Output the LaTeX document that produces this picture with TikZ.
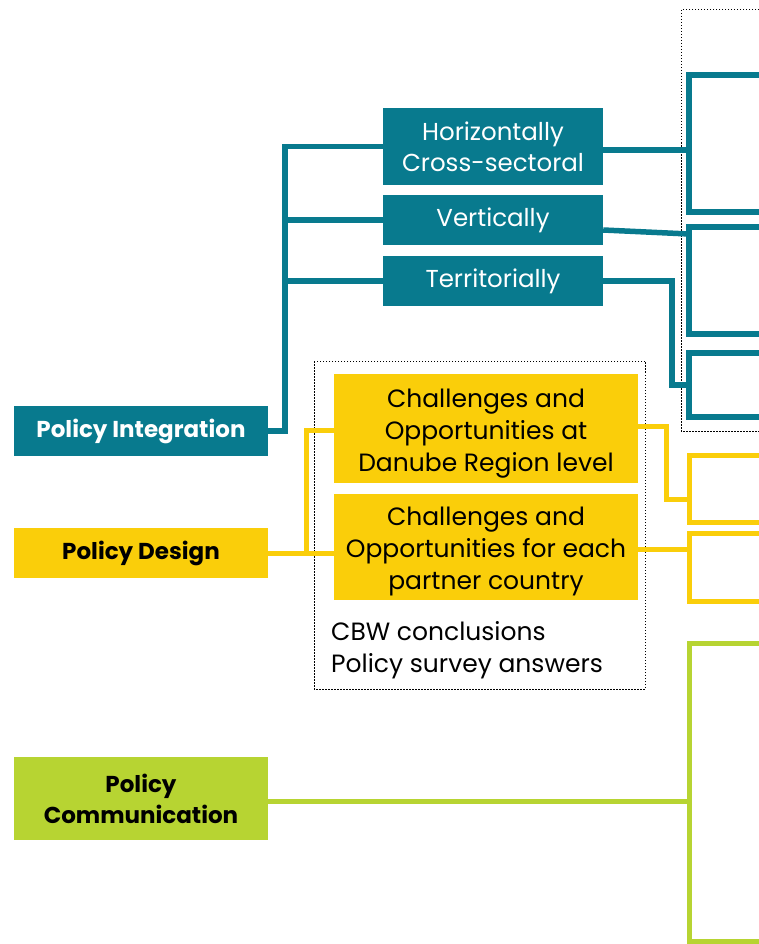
\documentclass[tikz,border=0pt]{standalone}
\usepackage{fontspec}
\setmainfont{Poppins}
\definecolor{tealc}{RGB}{8,122,142}
\definecolor{yelc}{RGB}{250,206,10}
\definecolor{grnc}{RGB}{183,212,50}
\newcommand{\topstrut}{\rule{0pt}{28pt}}
\begin{document}
\begin{tikzpicture}[x=1pt,y=-1pt,
  base/.style={inner sep=0pt, align=center},
  tealbox/.style={base, fill=tealc, text=white, minimum width=220pt, font=\fontsize{24.5}{31}\selectfont},
  yelbox/.style={base, fill=yelc, text=black, minimum width=304pt, font=\fontsize{25}{32}\selectfont},
  mainbox/.style={base, minimum width=254pt, font=\fontsize{23}{31}\bfseries\selectfont},
  tline/.style={draw=tealc, line width=5.5pt},
  yline/.style={draw=yelc, line width=5pt},
  gline/.style={draw=grnc, line width=5pt},
  dotbox/.style={draw=black, line width=1pt, dash pattern=on 1.5pt off 1.5pt}
]
\useasboundingbox (0,0) rectangle (759,944);

% dotted frames
\draw[dotbox] (765,10) -- (681,10) -- (681,431) -- (765,431);
\draw[dotbox] (314,361) rectangle (645,689);

% main boxes
\node[mainbox, fill=tealc, text=white, minimum height=50pt] (pi) at (141,431) {Policy Integration};
\node[mainbox, fill=yelc, text=black, minimum height=50pt] (pd) at (141,553) {Policy Design};
\node[mainbox, fill=grnc, text=black, minimum height=83pt] (pc) at (141,798.5) {Policy\\Communication};

% teal sub boxes
\node[tealbox, minimum height=77pt] (hor) at (493,146.5) {Horizontally\\Cross-sectoral};
\node[tealbox, minimum height=50pt] (ver) at (493,220) {Vertically};
\node[tealbox, minimum height=50pt] (ter) at (493,281) {Territorially};

% yellow sub boxes
\node[yelbox, minimum height=109pt] (dan) at (486,428.5) {\topstrut Challenges and\\Opportunities at\\Danube Region level};
\node[yelbox, minimum height=106pt] (each) at (486,547) {\topstrut Challenges and\\Opportunities for each\\partner country};

\node[base, anchor=west, align=left, font=\fontsize{25}{32}\selectfont] (src) at (331,650) {CBW conclusions\\Policy survey answers};

% coordinates for bracket spines
\coordinate (tsp) at (285,0);
\coordinate (ysp) at (306,0);
\coordinate (rsp) at (689,0);

% teal connectors left
\draw[tline] (pi.east) -| (tsp |- hor.west) -- (hor.west);
\draw[tline] (tsp |- ver.west) -- (ver.west);
\draw[tline] (tsp |- ter.west) -- (ter.west);

% yellow connectors left
\draw[yline] (pd.east) -| (ysp |- 0,430) -- (dan.west |- 0,430);
\draw[yline] (ysp |- pd.east) -- (each.west |- pd.east);

% teal connectors right
\draw[tline] (hor.east |- 0,150) -- (rsp |- 0,150);
\draw[tline] (ver.east |- 0,230) -- (rsp |- 0,234);
\draw[tline] (ter.east) -| (672,385) -- (rsp |- 0,385);

% yellow connectors right
\draw[yline] (dan.east |- 0,426) -| (666,499) -- (rsp |- 0,499);
\draw[yline] (each.east |- 0,549) -- (rsp |- 0,549);

% green connector
\draw[gline] (pc.east |- 0,801) -- (rsp |- 0,801);

% right brackets
\draw[tline] (765,75) -- (689,75) -- (689,212) -- (765,212);
\draw[tline] (765,227) -- (689,227) -- (689,334) -- (765,334);
\draw[tline] (765,353) -- (689,353) -- (689,417) -- (765,417);
\draw[yline] (765,455) -- (689,455) -- (689,522) -- (765,522);
\draw[yline] (765,533) -- (689,533) -- (689,601) -- (765,601);
\draw[gline] (765,643) -- (689,643) -- (689,941) -- (765,941);
\end{tikzpicture}
\end{document}
